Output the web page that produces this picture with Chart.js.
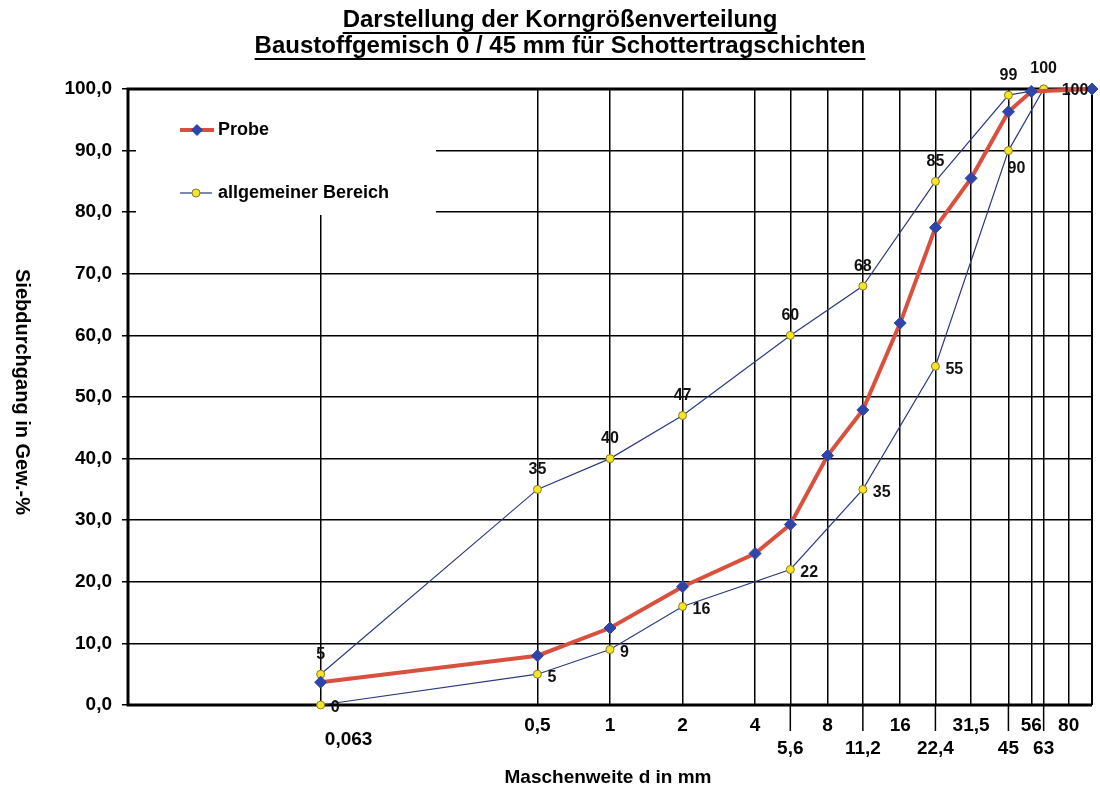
<!DOCTYPE html>
<html>
<head>
<meta charset="utf-8">
<script src="https://cdn.jsdelivr.net/npm/chart.js@4/dist/chart.umd.min.js"></script>
<style>
  html, body { margin: 0; padding: 0; background: #ffffff; }
  #wrap { width: 1100px; height: 795px; }
</style>
</head>
<body>
<div id="wrap"><canvas id="c" width="1100" height="795"></canvas></div>
<script>
// ---- data ----
const titleLines = ['Darstellung der Korngrößenverteilung', 'Baustoffgemisch 0 / 45 mm für Schottertragschichten'];
const yTitle = 'Siebdurchgang in Gew.-%';
const xTitle = 'Maschenweite d in mm';

const sieveSizes  = [0.063, 0.5, 1, 2, 4, 5.6, 8, 11.2, 16, 22.4, 31.5, 45, 56, 63, 80];
const sieveLabels = ['0,063', '0,5', '1', '2', '4', '5,6', '8', '11,2', '16', '22,4', '31,5', '45', '56', '63', '80'];

const probeSizes  = [0.063, 0.5, 1, 2, 4, 5.6, 8, 11.2, 16, 22.4, 31.5, 45, 56, 100];
const probeValues = [3.7, 8.0, 12.5, 19.2, 24.6, 29.3, 40.5, 47.9, 62.0, 77.5, 85.5, 96.3, 99.6, 100];

const bandSizes   = [0.063, 0.5, 1, 2, 5.6, 11.2, 22.4, 45, 63];
const upperValues = [5, 35, 40, 47, 60, 68, 85, 99, 100];
const lowerValues = [0, 5, 9, 16, 22, 35, 55, 90, 100];

const legendNames = ['Probe', 'allgemeiner Bereich'];

// ---- helpers ----
const FONT = '"Liberation Sans", Arial, sans-serif';
const pts = (xs, ys) => xs.map((x, i) => ({ x: x, y: ys[i] }));
const lowerRowSizes = [5.6, 11.2, 22.4, 45, 63];

const decorPlugin = {
  id: 'decor',
  beforeDatasetsDraw(chart) {
    const ctx = chart.ctx, a = chart.chartArea;
    ctx.save();
    // legend area (white box covering grid)
    ctx.fillStyle = '#ffffff';
    ctx.fillRect(a.left + 8, a.top - 1, 300, 127);
    // frame
    ctx.strokeStyle = '#000';
    ctx.lineWidth = 3;
    ctx.beginPath();
    ctx.moveTo(a.right, a.top); ctx.lineTo(a.left, a.top); ctx.lineTo(a.left, a.bottom); ctx.lineTo(a.right, a.bottom);
    ctx.stroke();
    ctx.lineWidth = 2;
    ctx.beginPath(); ctx.moveTo(a.right, a.top); ctx.lineTo(a.right, a.bottom); ctx.stroke();
    // long ticks for second-row labels
    const xs = chart.scales.x;
    ctx.lineWidth = 1.5;
    lowerRowSizes.forEach(v => {
      const px = xs.getPixelForValue(v);
      ctx.beginPath(); ctx.moveTo(px, a.bottom); ctx.lineTo(px, a.bottom + 26); ctx.stroke();
    });
    // legend entries
    const lx = a.left + 52, ly1 = a.top + 41, ly2 = a.top + 104;
    ctx.strokeStyle = '#d9503f'; ctx.lineWidth = 4;
    ctx.beginPath(); ctx.moveTo(lx, ly1); ctx.lineTo(lx + 34, ly1); ctx.stroke();
    ctx.fillStyle = '#2f46a8';
    ctx.beginPath(); ctx.moveTo(lx + 17, ly1 - 6); ctx.lineTo(lx + 23, ly1); ctx.lineTo(lx + 17, ly1 + 6); ctx.lineTo(lx + 11, ly1); ctx.closePath(); ctx.fill();
    ctx.strokeStyle = '#2b3a80'; ctx.lineWidth = 1.2;
    ctx.beginPath(); ctx.moveTo(lx, ly2); ctx.lineTo(lx + 32, ly2); ctx.stroke();
    ctx.fillStyle = '#f2e52a'; ctx.strokeStyle = '#8a7a20'; ctx.lineWidth = 1;
    ctx.beginPath(); ctx.arc(lx + 16, ly2, 4, 0, Math.PI * 2); ctx.fill(); ctx.stroke();
    ctx.fillStyle = '#000'; ctx.font = 'bold 18px ' + FONT; ctx.textBaseline = 'middle'; ctx.textAlign = 'left';
    ctx.fillText(legendNames[0], lx + 38, ly1);
    ctx.fillText(legendNames[1], lx + 38, ly2);
    ctx.restore();
  },
  afterDatasetsDraw(chart) {
    const ctx = chart.ctx;
    ctx.save();
    ctx.fillStyle = '#111';
    ctx.font = 'bold 16px ' + FONT;
    ctx.textBaseline = 'middle';
    const up = chart.getDatasetMeta(1).data;
    ctx.textAlign = 'center';
    upperValues.forEach((v, i) => { ctx.fillText(String(v), up[i].x, up[i].y - 20); });
    const lo = chart.getDatasetMeta(2).data;
    lowerValues.forEach((v, i) => {
      if (i === 7) { ctx.textAlign = 'center'; ctx.fillText(String(v), lo[i].x + 8, lo[i].y + 18); }
      else if (i === 8) { ctx.textAlign = 'left'; ctx.fillText(String(v), lo[i].x + 18, lo[i].y + 2); }
      else { ctx.textAlign = 'left'; ctx.fillText(String(v), lo[i].x + 10, lo[i].y + 3); }
    });
    ctx.restore();
  },
  afterDraw(chart) {
    const ctx = chart.ctx, a = chart.chartArea, xs = chart.scales.x;
    ctx.save();
    ctx.fillStyle = '#000'; ctx.strokeStyle = '#000';
    // title
    ctx.font = 'bold 24px ' + FONT; ctx.textAlign = 'center'; ctx.textBaseline = 'middle';
    [20, 46].forEach((y, i) => {
      ctx.fillText(titleLines[i], 560, y);
      const w = ctx.measureText(titleLines[i]).width;
      ctx.lineWidth = 2;
      ctx.beginPath(); ctx.moveTo(560 - w / 2, y + 13); ctx.lineTo(560 + w / 2, y + 13); ctx.stroke();
    });
    // x tick labels
    ctx.font = 'bold 19px ' + FONT;
    sieveSizes.forEach((v, i) => {
      const px = xs.getPixelForValue(v);
      if (i === 0) { ctx.fillText(sieveLabels[i], px + 28, a.bottom + 35); }
      else if (lowerRowSizes.includes(v)) { ctx.fillText(sieveLabels[i], px, a.bottom + 44); }
      else { ctx.fillText(sieveLabels[i], px, a.bottom + 21); }
    });
    // axis titles
    ctx.font = 'bold 19px ' + FONT;
    ctx.fillText(xTitle, 608, 778);
    ctx.font = 'bold 20px ' + FONT;
    ctx.translate(22, 392); ctx.rotate(Math.PI / 2);
    ctx.fillText(yTitle, 0, 0);
    ctx.restore();
  }
};

new Chart(document.getElementById('c'), {
  type: 'line',
  data: {
    datasets: [
      {
        label: legendNames[0],
        data: pts(probeSizes, probeValues),
        borderColor: '#d9503f', borderWidth: 4,
        pointStyle: 'rectRot', pointRadius: 6,
        pointBackgroundColor: '#2f46a8', pointBorderColor: '#2f46a8', pointBorderWidth: 1,
        tension: 0, clip: false
      },
      {
        label: legendNames[1],
        data: pts(bandSizes, upperValues),
        borderColor: '#2b3a80', borderWidth: 1.2,
        pointStyle: 'circle', pointRadius: 4,
        pointBackgroundColor: '#f2e52a', pointBorderColor: '#8a7a20', pointBorderWidth: 1,
        tension: 0, clip: false
      },
      {
        label: legendNames[1],
        data: pts(bandSizes, lowerValues),
        borderColor: '#2b3a80', borderWidth: 1.2,
        pointStyle: 'circle', pointRadius: 4,
        pointBackgroundColor: '#f2e52a', pointBorderColor: '#8a7a20', pointBorderWidth: 1,
        tension: 0, clip: false
      }
    ]
  },
  options: {
    responsive: false,
    animation: false,
    layout: { padding: { top: 89, right: 8, bottom: 0, left: 0 } },
    plugins: { legend: { display: false }, tooltip: { enabled: false }, title: { display: false } },
    scales: {
      x: {
        type: 'logarithmic', min: 0.01, max: 100,
        afterBuildTicks: s => { s.ticks = sieveSizes.map(v => ({ value: v })); },
        afterFit: s => { s.height = 90; },
        ticks: { display: false },
        grid: { color: '#000', lineWidth: 1.5, drawTicks: false },
        border: { display: false }
      },
      y: {
        min: 0, max: 100,
        afterFit: s => { s.width = 128; },
        ticks: {
          stepSize: 10, padding: 10, color: '#000',
          font: { family: FONT, size: 19, weight: 'bold' },
          callback: v => v.toFixed(1).replace('.', ',')
        },
        grid: { color: '#000', lineWidth: 1.5, tickLength: 6 },
        border: { display: false }
      }
    }
  },
  plugins: [decorPlugin]
});
</script>
</body>
</html>
